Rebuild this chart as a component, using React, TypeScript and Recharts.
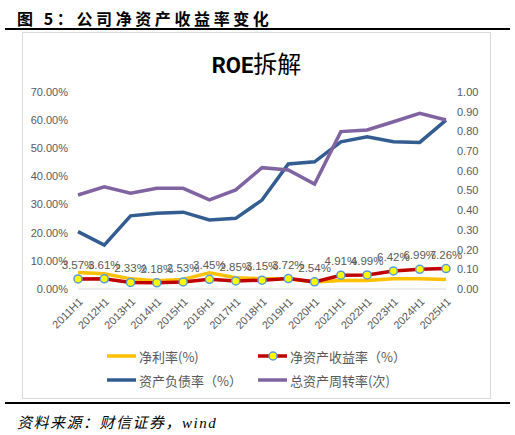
import { LineChart, Line, XAxis, YAxis, LabelList } from 'recharts'

const PERIODS = [
    '2011H1', '2012H1', '2013H1', '2014H1', '2015H1', '2016H1', '2017H1', '2018H1',
    '2019H1', '2020H1', '2021H1', '2022H1', '2023H1', '2024H1', '2025H1'
]
// 净利率 (%)
const NET_MARGIN = [5.9, 5.4, 3.6, 2.9, 3.4, 5.8, 4.0, 3.6, 3.6, 2.5, 3.0, 3.0, 3.6, 3.6, 3.4]
// 净资产收益率 (%)
const ROE = [3.57, 3.61, 2.33, 2.18, 2.53, 3.45, 2.85, 3.15, 3.72, 2.54, 4.91, 4.99, 6.42, 6.99, 7.26]
// 资产负债率 (%)
const DEBT_RATIO = [20.4, 15.6, 26.0, 26.9, 27.3, 24.5, 25.1, 31.6, 44.4, 45.2, 52.3, 54.1, 52.3, 52.1, 60.0]
// 总资产周转率 (次)
const ASSET_TURNOVER = [0.477, 0.519, 0.486, 0.511, 0.511, 0.452, 0.503, 0.616, 0.604, 0.533, 0.799, 0.807, 0.849, 0.892, 0.858]

const PCT_TICKS = [0, 10, 20, 30, 40, 50, 60, 70]
const TURNOVER_TICKS = [0, 0.1, 0.2, 0.3, 0.4, 0.5, 0.6, 0.7, 0.8, 0.9, 1.0]

const FONT = '"Liberation Sans", "Noto Sans CJK SC", sans-serif'
const CJK = '"Noto Sans CJK SC", "Liberation Sans", sans-serif'
const GREY = '#595959'

const YELLOW = '#FFC000'
const RED = '#C00000'
const BLUE = '#335C91'
const PURPLE = '#8064A2'

function LegendItem({ color, label, marker }: { color: string; label: string; marker?: boolean }) {
    return (
        <div style={{ display: 'flex', alignItems: 'center', height: 18 }}>
            <svg width={29} height={12} style={{ marginRight: 3 }}>
                <line x1={0} y1={6} x2={29} y2={6} stroke={color} strokeWidth={3.5} />
                {marker && <circle cx={15} cy={6} r={4} fill="#FFFF00" stroke="#5B9BD5" strokeWidth={1.5} />}
            </svg>
            <span style={{ fontFamily: CJK, fontSize: 13, color: GREY }}>{label}</span>
        </div>
    )
}

export default function App() {
    const data = PERIODS.map((p, i) => ({
        period: p,
        netMargin: NET_MARGIN[i],
        roe: ROE[i],
        debt: DEBT_RATIO[i],
        turnover: ASSET_TURNOVER[i]
    }))

    return (
        <div style={{ position: 'absolute', left: 0, top: 0, width: 515, height: 435, background: '#fff', fontFamily: FONT }}>
            {/* figure heading */}
            <div style={{
                position: 'absolute', left: 17, top: 6, fontFamily: CJK, fontWeight: 700,
                fontSize: 16, letterSpacing: 3.6, color: '#000', whiteSpace: 'nowrap'
            }}>
                图 5：公司净资产收益率变化
            </div>
            <div style={{ position: 'absolute', left: 5, top: 28, width: 505, height: 2, background: '#000' }} />

            {/* chart frame */}
            <div style={{ position: 'absolute', left: 22, top: 32, width: 467, height: 365, border: '1px solid #D9D9D9' }} />
            <div style={{
                position: 'absolute', left: 22, top: 45, width: 469, textAlign: 'center',
                fontSize: 22, color: '#000', whiteSpace: 'nowrap'
            }}>
                <span style={{ fontFamily: 'Roboto, sans-serif', fontWeight: 700 }}>ROE</span>
                <span style={{ fontFamily: CJK, fontSize: 24 }}>拆解</span>
            </div>

            <div style={{ position: 'absolute', left: 22, top: 85 }}>
                <LineChart width={468} height={249} data={data} margin={{ top: 7, right: 0, left: 0, bottom: 0 }}>
                    <XAxis
                        dataKey="period"
                        interval={0}
                        angle={-45}
                        textAnchor="end"
                        height={45}
                        tickLine={false}
                        axisLine={{ stroke: '#D9D9D9' }}
                        tick={{ fill: GREY, fontSize: 11, fontFamily: FONT }}
                    />
                    <YAxis
                        yAxisId="left"
                        width={56}
                        domain={[0, 70]}
                        ticks={PCT_TICKS}
                        tickFormatter={(v: number) => `${v.toFixed(2)}%`}
                        axisLine={false}
                        tickLine={false}
                        tickMargin={4}
                        tick={{ fill: GREY, fontSize: 11, fontFamily: FONT }}
                    />
                    <YAxis
                        yAxisId="right"
                        orientation="right"
                        width={44}
                        domain={[0, 1]}
                        ticks={TURNOVER_TICKS}
                        tickFormatter={(v: number) => v.toFixed(2)}
                        axisLine={false}
                        tickLine={false}
                        tickMargin={5}
                        tick={{ fill: GREY, fontSize: 11, fontFamily: FONT }}
                    />
                    <Line yAxisId="left" dataKey="netMargin" stroke={YELLOW} strokeWidth={3.5} dot={false} isAnimationActive={false} />
                    <Line yAxisId="left" dataKey="debt" stroke={BLUE} strokeWidth={3.5} dot={false} isAnimationActive={false} />
                    <Line yAxisId="right" dataKey="turnover" stroke={PURPLE} strokeWidth={3.5} dot={false} isAnimationActive={false} />
                    <Line
                        yAxisId="left"
                        dataKey="roe"
                        stroke={RED}
                        strokeWidth={3.5}
                        dot={{ r: 4, fill: '#FFFF00', stroke: '#5B9BD5', strokeWidth: 1.5 }}
                        isAnimationActive={false}
                    >
                        <LabelList
                            dataKey="roe"
                            position="top"
                            offset={10}
                            formatter={(v: any) => `${Number(v).toFixed(2)}%`}
                            fill={GREY}
                            fontSize={11.5}
                            fontFamily={FONT}
                        />
                    </Line>
                </LineChart>
            </div>

            {/* legend */}
            <div style={{ position: 'absolute', left: 107, top: 347 }}><LegendItem color={YELLOW} label="净利率(%)" /></div>
            <div style={{ position: 'absolute', left: 258, top: 347 }}><LegendItem color={RED} label="净资产收益率（%）" marker /></div>
            <div style={{ position: 'absolute', left: 107, top: 371 }}><LegendItem color={BLUE} label="资产负债率（%）" /></div>
            <div style={{ position: 'absolute', left: 258, top: 371 }}><LegendItem color={PURPLE} label="总资产周转率(次)" /></div>

            {/* source */}
            <div style={{ position: 'absolute', left: 5, top: 402, width: 505, height: 1.5, background: '#000' }} />
            <div style={{
                position: 'absolute', left: 17, top: 411, fontFamily: CJK, fontStyle: 'italic',
                fontSize: 15, letterSpacing: 1.5, color: '#000', whiteSpace: 'nowrap'
            }}>
                资料来源：财信证券，<span style={{ fontFamily: '"Liberation Serif", serif' }}>wind</span>
            </div>
        </div>
    )
}
